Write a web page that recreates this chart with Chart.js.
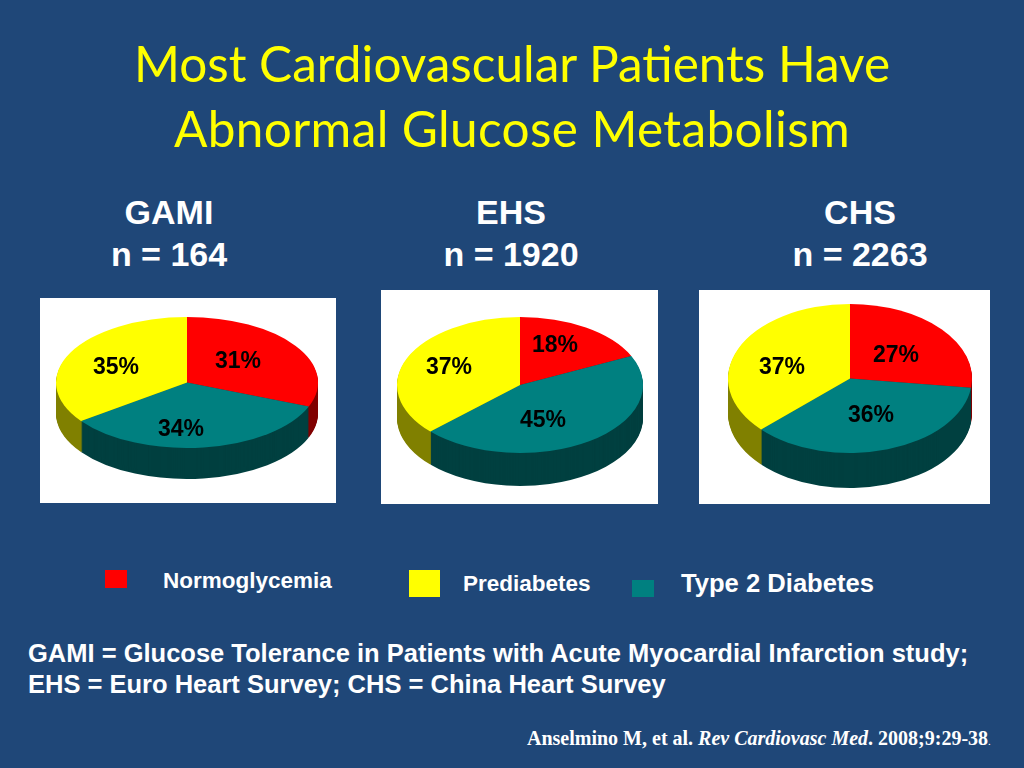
<!DOCTYPE html>
<html>
<head>
<meta charset="utf-8">
<script src="https://cdn.jsdelivr.net/npm/chart.js@4"></script>
<style>
  html, body { margin: 0; padding: 0; background: #1f4778; }
  #slide { position: relative; width: 1024px; height: 768px; overflow: hidden; background: #1f4778; color: #fff;
           font-family: "Liberation Sans", Arial, sans-serif; font-weight: bold; }
  #slide div, #slide canvas { position: absolute; }
  .title { left: 0; width: 1024px; text-align: center; color: #ffff00; font: normal 49.5px/65px Lato, sans-serif; }
  .head { width: 300px; text-align: center; font-size: 34px; line-height: 42px; top: 191px; }
  .sw { display: block; }
  .lab { white-space: nowrap; line-height: 30px; }
  .note { left: 28px; font-size: 25.5px; line-height: 31px; white-space: nowrap; }
  .cite { left: 527px; top: 726px; font: bold 20px/24px "Liberation Serif", serif; white-space: nowrap; }
  .cite i { font-weight: bold; }
  .cite small { font-size: 11px; font-weight: normal; }
</style>
</head>
<body>
<div id="slide">
  <div class="title" style="top:31px">Most Cardiovascular Patients Have</div>
  <div class="title" style="top:96px;letter-spacing:.37px">Abnormal Glucose Metabolism</div>

  <div class="head" style="left:19px">GAMI<br>n = 164</div>
  <div class="head" style="left:361px">EHS<br>n = 1920</div>
  <div class="head" style="left:710px">CHS<br>n = 2263</div>

  <canvas id="gamiChart"></canvas>
  <canvas id="ehsChart"></canvas>
  <canvas id="chsChart"></canvas>

  <div class="sw" style="left:105px;top:570px;width:22px;height:18px;background:#ff0000"></div>
  <div class="lab" style="left:163px;top:566px;font-size:22.5px">Normoglycemia</div>
  <div class="sw" style="left:409px;top:570px;width:31px;height:27px;background:#ffff00"></div>
  <div class="lab" style="left:463px;top:569px;font-size:22.5px">Prediabetes</div>
  <div class="sw" style="left:632px;top:580px;width:22px;height:17px;background:#008080"></div>
  <div class="lab" style="left:681px;top:568px;font-size:25.6px">Type 2 Diabetes</div>

  <div class="note" style="top:638px">GAMI = Glucose Tolerance in Patients with Acute Myocardial Infarction study;</div>
  <div class="note" style="top:669px">EHS = Euro Heart Survey; CHS = China Heart Survey</div>

  <div class="cite">Anselmino M, et al. <i>Rev Cardiovasc Med</i>. 2008;9:29-38<small>.</small></div>
</div>

<script>
const categories = ['Normoglycemia', 'Type 2 Diabetes', 'Prediabetes'];
const gamiValues = [31, 34, 35];
const ehsValues  = [18, 45, 37];
const chsValues  = [27, 36, 37];

const TOP_COLORS  = ['#ff0000', '#008080', '#ffff00'];
const SIDE_COLORS = ['#800000', '#004040', '#808000'];

// white panel, pie centre + radii + wall height, and % label centres (page px)
const GAMI_BOX = { left: 40,  top: 298, width: 296, height: 205, cx: 187, cy: 382.5, rx: 131, ry: 65.5, depth: 31,
                   spots: [[238, 362], [181, 430], [116, 368]] };
const EHS_BOX  = { left: 381, top: 290, width: 277, height: 214, cx: 520, cy: 385, rx: 123, ry: 68, depth: 33,
                   spots: [[555, 346], [543, 421], [449, 368]] };
const CHS_BOX  = { left: 699, top: 290, width: 291, height: 214, cx: 850, cy: 378.5, rx: 122, ry: 74.5, depth: 35,
                   spots: [[896, 356], [871, 416], [782, 368]] };

// ── Squashed pie with a side wall ───────────────────────────────────────────

const tiltPlugin = {
  id: 'tilt',
  beforeDatasetsDraw(chart, args, opts) {
    const ctx = chart.ctx;
    const arcs = chart.getDatasetMeta(0).data;
    const y0 = arcs[0].y;
    const k = opts.ry / opts.rx;

    // wall: same arcs stacked downwards in the dark colours
    for (let d = opts.depth; d > 0; d--) {
      ctx.save();
      ctx.translate(0, y0 + d);
      ctx.scale(1, k);
      ctx.translate(0, -y0);
      arcs.forEach((arc, i) => {
        const side = Object.create(arc);
        side.options = { ...arc.options, backgroundColor: SIDE_COLORS[i] };
        side.draw(ctx);
      });
      ctx.restore();
    }

    ctx.save();
    ctx.translate(0, y0);
    ctx.scale(1, k);
    ctx.translate(0, -y0);
  },
  afterDatasetsDraw(chart) {
    chart.ctx.restore();
  },
  afterDraw(chart, args, opts) {
    const ctx = chart.ctx;
    ctx.save();
    ctx.fillStyle = '#000';
    ctx.font = 'bold 23px "Liberation Sans", Arial, sans-serif';
    ctx.textAlign = 'center';
    ctx.textBaseline = 'middle';
    chart.data.datasets[0].data.forEach((v, i) => {
      ctx.fillText(v + '%', opts.spots[i][0] - opts.left, opts.spots[i][1] - opts.top);
    });
    ctx.restore();
  },
};

function renderPie(id, values, box) {
  const canvas = document.getElementById(id);
  canvas.style.left = box.left + 'px';
  canvas.style.top = box.top + 'px';
  canvas.style.background = '#fff';
  canvas.width = box.width;
  canvas.height = box.height;

  // chart area centre has to land on the pie centre
  const relX = box.cx - box.left, relY = box.cy - box.top;
  const padX = box.width - 2 * relX, padY = box.height - 2 * relY;

  return new Chart(canvas, {
    type: 'pie',
    data: {
      labels: categories,
      datasets: [{ data: values, backgroundColor: TOP_COLORS, borderWidth: 0, clip: false }],
    },
    options: {
      responsive: false, animation: false,
      radius: box.rx,
      layout: { padding: {
        left: Math.max(-padX, 0), right: Math.max(padX, 0),
        top: Math.max(-padY, 0), bottom: Math.max(padY, 0),
      } },
      plugins: { legend: { display: false }, tooltip: { enabled: false }, tilt: box },
    },
    plugins: [tiltPlugin],
  });
}

renderPie('gamiChart', gamiValues, GAMI_BOX);
renderPie('ehsChart', ehsValues, EHS_BOX);
renderPie('chsChart', chsValues, CHS_BOX);
</script>
</body>
</html>
